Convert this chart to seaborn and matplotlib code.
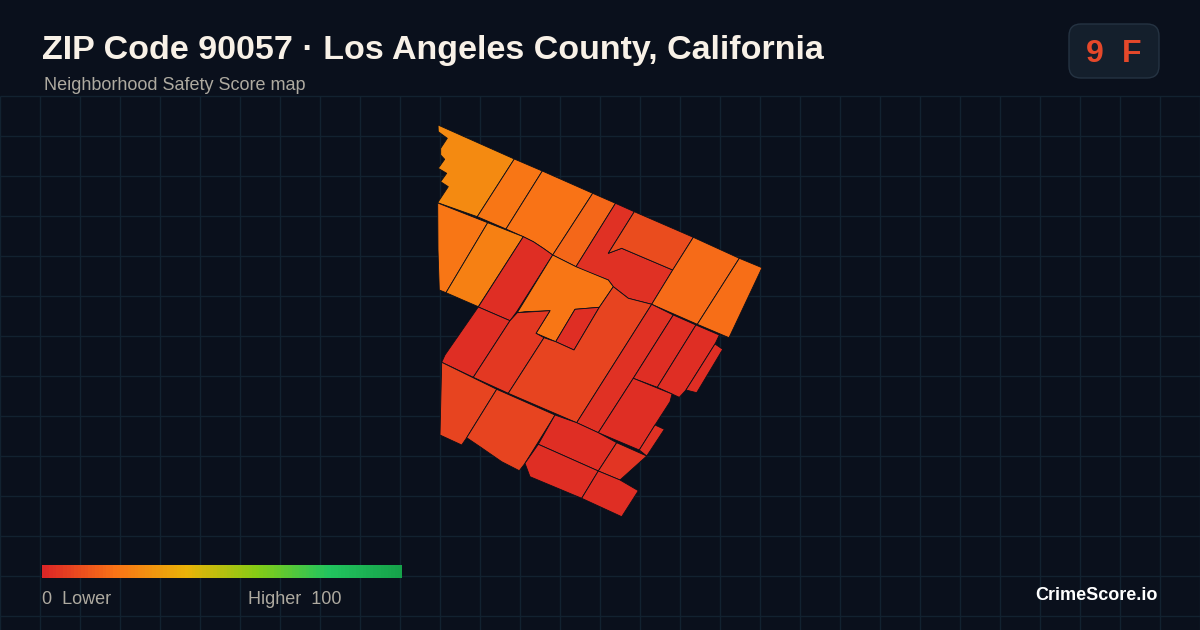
import matplotlib
matplotlib.use('Agg')
import matplotlib.pyplot as plt
from matplotlib.collections import PolyCollection
from matplotlib.patches import FancyBboxPatch
import numpy as np
import seaborn as sns

# block group outlines, in map units
tract_outlines = [
    [(438, 125), (514.3, 159), (477.3, 216.7), (437.7, 202.7), (448.3, 186.7), (440.7, 181.7), (446.7, 173.3),
     (438.3, 168.3), (444.7, 159.3), (440.7, 155), (440.7, 148.3), (447.3, 138.3), (438.3, 131.7)],
    [(514.3, 159), (542.3, 171), (506, 229), (477.3, 216.7)],
    [(542.3, 171), (592.7, 193.3), (552.7, 255), (543.3, 248.3), (533.3, 241.7), (523.3, 236.7), (506, 229)],
    [(592.7, 193.3), (615.5, 203.3), (576, 266.7), (552.7, 255)],
    [(615.5, 203.3), (634.3, 211.7), (608.3, 253.3), (621.7, 248.3), (672.7, 270), (651.7, 304.3), (628.3, 298.3),
     (613.3, 286.7), (608.3, 280), (580, 269), (576, 266.7)],
    [(634.3, 211.7), (693.3, 237.3), (672.7, 270), (621.7, 248.3), (608.3, 253.3)],
    [(693.3, 237.3), (739.3, 258.3), (697.3, 324.3), (651.7, 304.3), (672.7, 270)],
    [(739.3, 258.3), (762, 267.7), (729, 337.7), (697.3, 324.3)],
    [(437.7, 203), (487.7, 222.7), (446, 292.7), (439.3, 290), (438, 250)],
    [(487.7, 222.7), (523.3, 236.7), (478.3, 306.7), (446, 292.7)],
    [(523.3, 236.7), (533.3, 241.7), (543.3, 248.3), (552.7, 255), (516.7, 311.7), (510, 320.7), (478.3, 307)],
    [(552.7, 255), (576, 266.7), (608.3, 280), (613.3, 286.7), (599.3, 307.3), (575, 309.3), (555.7, 341.7),
     (536, 333.3), (550, 310.7), (525, 311.7), (517.3, 312.7)],
    [(575, 309.3), (599.3, 307.3), (574, 350), (555.7, 341.7)],
    [(478.3, 307), (510, 320.7), (473.3, 377.3), (441.7, 362.3), (445, 355)],
    [(510, 320.7), (517.3, 312.7), (550, 310.7), (536, 333.3), (544, 337.7), (508.3, 393.3), (473.3, 377.3)],
    [(544, 337.7), (555.7, 341.7), (574, 350), (599.3, 307.3), (613.3, 286.7), (628.3, 298.3), (651.7, 304.3),
     (576.7, 422.7), (508.3, 393.3)],
    [(651.7, 304.3), (673.3, 315), (633.3, 378.3), (598.3, 432.7), (576.7, 422.7)],
    [(673.3, 315), (696, 325), (657.3, 387.3), (633.3, 378.3)],
    [(696, 325), (719.3, 335), (715, 344), (686, 390), (679.3, 397.3), (657.3, 387.3)],
    [(715, 344), (722.7, 349.3), (696.7, 392.7), (686, 390)],
    [(633.3, 378.3), (672, 394), (670, 401.7), (655, 425), (639.3, 450), (598.3, 432.7)],
    [(655, 425), (664.3, 429.3), (646.7, 456), (639.3, 450)],
    [(441.7, 362.3), (496.7, 389.3), (466.7, 437.7), (461.7, 445), (440, 435)],
    [(496.7, 389.3), (555, 415), (525, 463.3), (519.3, 470.7), (501.7, 461.7), (480, 446.7), (466.7, 437.7)],
    [(555, 415), (576.7, 422.7), (598.3, 432.7), (616.7, 442.7), (598.3, 471), (538.3, 444.3)],
    [(616.7, 442.7), (646.7, 456), (620, 480), (598.3, 471)],
    [(538.3, 444.3), (598.3, 471), (581.7, 498.3), (530, 476.7), (525, 463.3)],
    [(598.3, 471), (620, 480), (638.3, 490.7), (621.7, 516.7), (581.7, 498.3)],
]
tract_scores = [27, 21, 20, 17, 3, 10, 18, 19, 21, 24, 2, 21, 2, 2, 5, 8, 3, 2, 2, 2, 2, 3, 8, 8, 2, 4, 2, 2]

ramp_colors = ['#dc2626', '#f97316', '#eab308', '#84cc16', '#22c55e', '#16a34a']
scale_values = np.arange(0, 101)

background = '#0a101c'
grid_color = '#122230'

sns.set_theme(style='dark', rc={'axes.facecolor': background, 'figure.facecolor': background})
plt.rcParams['font.family'] = ['Liberation Sans', 'DejaVu Sans']

score_cmap = sns.blend_palette(ramp_colors, n_colors=256, as_cmap=True)

fig = plt.figure(figsize=(12, 6.3), dpi=100)
ax = fig.add_axes([0, 0, 1, 1])
ax.set_xlim(0, 1200)
ax.set_ylim(630, 0)
ax.axis('off')

ax.vlines(np.arange(0, 1201, 40), 96, 630, color=grid_color, lw=1, zorder=1)
ax.hlines(np.arange(96, 631, 40), 0, 1200, color=grid_color, lw=1, zorder=1)

tracts = PolyCollection(tract_outlines, array=np.array(tract_scores), cmap=score_cmap, clim=(0, 100),
                        edgecolor='#0b0f18', linewidth=0.6, zorder=2)
ax.add_collection(tracts)

ax.text(42, 50, 'ZIP Code 90057 · Los Angeles County, California', color='#f8f1e7', fontsize=24.5,
        fontweight='bold', va='center', ha='left')
ax.text(44, 85, 'Neighborhood Safety Score map', color='#aeaaa0', fontsize=13, va='center', ha='left')

badge = FancyBboxPatch((1081, 36), 66, 30, boxstyle='round,pad=12,rounding_size=12', facecolor='#141f2c',
                       edgecolor='#253342', linewidth=1, zorder=3)
ax.add_patch(badge)
ax.text(1094.5, 54, '9', color='#e5482a', fontsize=23, fontweight='bold', ha='center', va='center', zorder=4)
ax.text(1131.5, 54, 'F', color='#e5482a', fontsize=23, fontweight='bold', ha='center', va='center', zorder=4)

ax.text(42, 599, '0  Lower', color='#aeaaa0', fontsize=13, va='center', ha='left')
ax.text(341, 599, 'Higher  100', color='#aeaaa0', fontsize=13, va='center', ha='right')
ax.text(1158, 595, 'CrimeScore.io', color='#ffffff', fontsize=13, fontweight='bold', va='center', ha='right')

# colour scale strip
scale_ax = fig.add_axes([42 / 1200, 1 - 578 / 630, 360 / 1200, 13 / 630])
sns.heatmap(scale_values[np.newaxis, :], cmap=score_cmap, vmin=0, vmax=100, cbar=False,
            xticklabels=False, yticklabels=False, ax=scale_ax)

fig.savefig('out.png', dpi=100, facecolor=background)
